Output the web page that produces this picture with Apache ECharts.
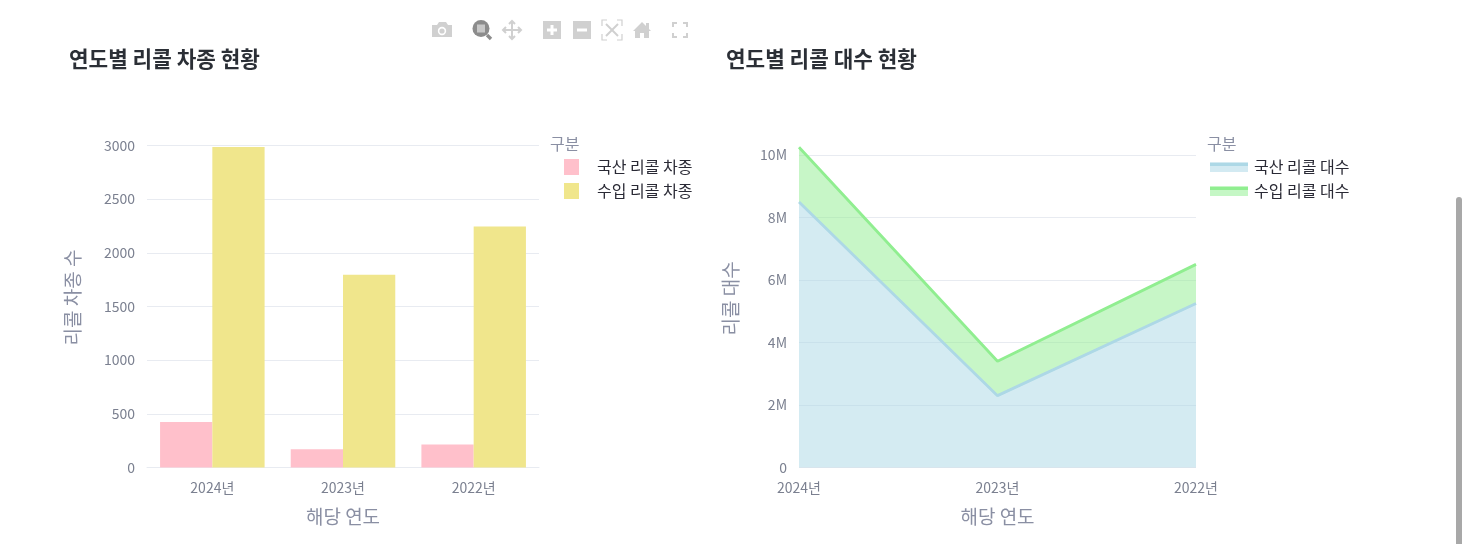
<!DOCTYPE html>
<html><head><meta charset="utf-8">
<style>html,body{margin:0;padding:0;background:#fff;overflow:hidden}#c{width:1462px;height:544px}</style>
<script src="https://cdn.jsdelivr.net/npm/echarts@6/dist/echarts.min.js"></script></head>
<body><div id="c"></div>
<script>
const years = ['2024년','2023년','2022년'];
const domesticCars = [425,170,215];
const importCars = [2985,1795,2245];
const domesticUnits = [8500000,2300000,5250000];
const importUnits = [1750000,1100000,1250000];
const titles = ['연도별 리콜 차종 현황','연도별 리콜 대수 현황'];
const legendCars = ['국산 리콜 차종','수입 리콜 차종'];
const legendUnits = ['국산 리콜 대수','수입 리콜 대수'];
const FONT = '"Noto Sans CJK KR","Noto Sans",sans-serif';
const GRIDC = '#e8ebf1', AXC = '#7b8090', TITC = '#8a8fa3';
const ICON = '#d0d0d0';
const chart = echarts.init(document.getElementById('c'));
function r(x,y,w,h,fill){return {type:'rect',shape:{x,y,width:w,height:h},style:{fill},silent:true};}
function c(x,y,rad,fill){return {type:'circle',shape:{cx:x,cy:y,r:rad},style:{fill},silent:true};}
function poly(points,fill){return {type:'polygon',shape:{points},style:{fill},silent:true};}
function pl(points,col,lw){return {type:'polyline',shape:{points},style:{fill:'none',stroke:col||ICON,lineWidth:lw||1.5},silent:true};}
const toolbar = [
  poly([[432,25],[437,25],[439,22],[446,22],[448,25],[452,25],[452,37],[432,37]],ICON),
  c(442,31,4.2,'#fff'), c(442,31,2.6,ICON),
  pl([[487,35],[491,39]],'#8c8c8c',3.4), c(481,28.5,8.5,'#8c8c8c'), r(477,24.5,8,8,'#c8c8c8'),
  pl([[503,30],[521,30]],ICON,2), pl([[512,21],[512,39]],ICON,2),
  pl([[506,27],[503,30],[506,33]],ICON,2), pl([[518,27],[521,30],[518,33]],ICON,2),
  pl([[509,24],[512,21],[515,24]],ICON,2), pl([[509,36],[512,39],[515,36]],ICON,2),
  r(543,21,18,18,ICON), r(547,28.5,10,3,'#fff'), r(550.5,25,3,10,'#fff'),
  r(573,21,18,18,ICON), r(577,28.5,10,3,'#fff'),
  pl([[602,26],[602,20],[607,20]],ICON,1.2), pl([[617,20],[622,20],[622,26]],ICON,1.2),
  pl([[622,34],[622,40],[617,40]],ICON,1.2), pl([[607,40],[602,40],[602,34]],ICON,1.2),
  pl([[606,24],[618,36]],ICON,2), pl([[618,24],[606,36]],ICON,2),
  poly([[633,31],[642,22],[646,26],[646,23],[649,23],[649,29],[651,31],[649,31],[649,38],[644,38],[644,33],[640,33],[640,38],[635,38],[635,31]],ICON),
  pl([[673,27],[673,23],[677,23]],ICON,2), pl([[683,23],[687,23],[687,27]],ICON,2),
  pl([[687,33],[687,37],[683,37]],ICON,2), pl([[677,37],[673,37],[673,33]],ICON,2)
];
const legendLines = [
  r(1210,163,38,3,'#add8e6'),
  r(1210,187,38,3,'#90ee90')
];
const scrollbar = [ {type:'rect',shape:{x:1456,y:197,width:6,height:347,r:[3,3,0,0]},style:{fill:'#a8a8a8'},silent:true} ];
function labelTitle(text,left,top){return {text,left,top,padding:0,textStyle:{fontFamily:FONT,fontSize:16,fontWeight:'normal',color:TITC}};}
chart.setOption({
  animation:false,
  title:[
    {text:titles[0],left:69,top:48,padding:0,textStyle:{fontFamily:FONT,fontSize:21.3,fontWeight:'bold',color:'#2b2f36'}},
    {text:titles[1],left:726,top:48,padding:0,textStyle:{fontFamily:FONT,fontSize:21.3,fontWeight:'bold',color:'#2b2f36'}},
    labelTitle('구분',550,136), labelTitle('구분',1207,136)
  ],
  grid:[
    {left:147,top:145.5,width:392,height:322},
    {left:799,top:147.2,width:397,height:320.3}
  ],
  legend:[
    {data:legendCars,left:564,top:159,padding:0,orient:'vertical',itemWidth:15,itemHeight:16,itemGap:8,icon:'rect',
     textStyle:{fontFamily:FONT,fontSize:16,color:'#2a2a35',padding:[0,0,0,13]},selectedMode:false},
    {data:legendUnits,left:1210,top:159,padding:0,orient:'vertical',itemWidth:38,itemHeight:10,itemGap:8,icon:'rect',
     lineStyle:{width:0,opacity:0},
     textStyle:{fontFamily:FONT,fontSize:16,color:'#2a2a35',padding:[0,0,0,1]},selectedMode:false}
  ],
  xAxis:[
    {type:'category',gridIndex:0,data:years,name:'해당 연도',nameLocation:'middle',nameGap:40,
     nameTextStyle:{fontFamily:FONT,fontSize:19,color:TITC},
     axisLine:{lineStyle:{color:GRIDC}},axisTick:{show:false},
     axisLabel:{fontFamily:FONT,fontSize:14,color:AXC,margin:13}},
    {type:'category',gridIndex:1,data:years,boundaryGap:false,name:'해당 연도',nameLocation:'middle',nameGap:40,
     nameTextStyle:{fontFamily:FONT,fontSize:19,color:TITC},
     axisLine:{show:false},axisTick:{show:false},
     axisLabel:{fontFamily:FONT,fontSize:14,color:AXC,margin:13,hideOverlap:false}}
  ],
  yAxis:[
    {type:'value',gridIndex:0,min:0,max:3000,interval:500,name:'리콜 차종 수',nameLocation:'middle',nameGap:65,
     nameTextStyle:{fontFamily:FONT,fontSize:19,color:TITC,padding:[0,0,0,18]},
     axisLine:{show:false},axisTick:{show:false},splitLine:{lineStyle:{color:GRIDC,width:1}},
     axisLabel:{fontFamily:FONT,fontSize:14,color:AXC,margin:12,formatter:v=>String(v)}},
    {type:'value',gridIndex:1,min:0,max:10250000,name:'리콜 대수',nameLocation:'middle',nameGap:59,
     nameTextStyle:{fontFamily:FONT,fontSize:19,color:TITC,padding:[0,0,0,18]},
     axisLine:{show:false},axisTick:{show:false,customValues:[0,2000000,4000000,6000000,8000000,10000000]},
     splitLine:{lineStyle:{color:GRIDC,width:1.2}},
     axisLabel:{fontFamily:FONT,fontSize:14,color:AXC,margin:12,
       customValues:[0,2000000,4000000,6000000,8000000,10000000],
       formatter:v=>v===0?'0':(v/1000000)+'M'}}
  ],
  series:[
    {name:legendCars[0],type:'bar',xAxisIndex:0,yAxisIndex:0,data:domesticCars,barGap:0,barCategoryGap:'20%',itemStyle:{color:'#ffc0cb'}},
    {name:legendCars[1],type:'bar',xAxisIndex:0,yAxisIndex:0,data:importCars,itemStyle:{color:'#f0e68c'}},
    {name:legendUnits[0],type:'line',xAxisIndex:1,yAxisIndex:1,stack:'u',data:domesticUnits,showSymbol:false,
     lineStyle:{color:'#add8e6',width:2.8},itemStyle:{color:'#d3eaf2'},areaStyle:{color:'rgba(173,216,230,0.52)',opacity:1}},
    {name:legendUnits[1],type:'line',xAxisIndex:1,yAxisIndex:1,stack:'u',data:importUnits,showSymbol:false,
     lineStyle:{color:'#90ee90',width:2.8},itemStyle:{color:'#c5f7c5'},areaStyle:{color:'rgba(144,238,144,0.5)',opacity:1}}
  ],
  graphic:[...toolbar,...scrollbar,...legendLines.map(e=>Object.assign(e,{z:100}))]
});
</script></body></html>
